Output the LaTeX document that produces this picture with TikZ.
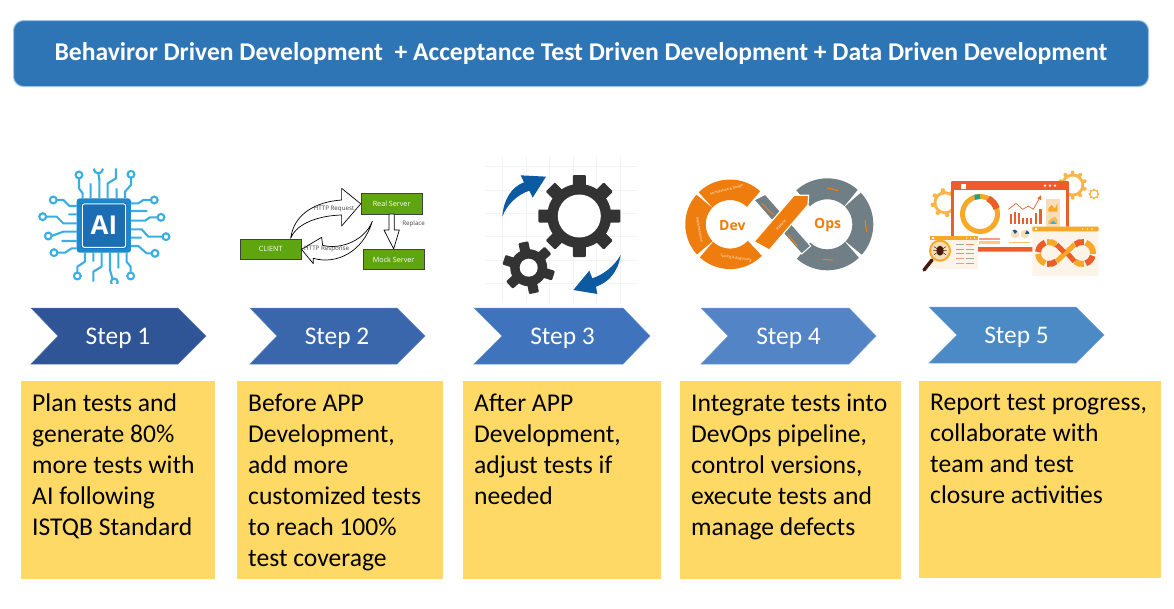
\documentclass[tikz,border=0pt]{standalone}
\usepackage{fontspec}
\setmainfont{Carlito}
\newfontfamily\opensans{Open Sans}
\usetikzlibrary{calc}
\definecolor{titleblue}{HTML}{2E75B6}
\definecolor{titleedge}{HTML}{9DC3E6}
\definecolor{boxyellow}{HTML}{FFD966}
\definecolor{chipline}{HTML}{3AAEE0}
\definecolor{chipouter}{HTML}{1E88CC}
\definecolor{chipinner}{HTML}{1B6DB4}
\definecolor{srvgreen}{HTML}{5FA50F}
\definecolor{geardark}{HTML}{333333}
\definecolor{arrowblue}{HTML}{0B5AA2}
\definecolor{gridgray}{HTML}{F3F3F3}
\definecolor{dorange}{HTML}{EE7D0E}
\definecolor{dgray}{HTML}{707F85}
\definecolor{dashred}{HTML}{EB5E2B}
\definecolor{dashyel}{HTML}{F8A827}
\definecolor{dashcream}{HTML}{FCF4E8}
\definecolor{dashpeach}{HTML}{F8DDBB}
\definecolor{dashteal}{HTML}{1FA08C}
\definecolor{stepa}{HTML}{2F5597}
\definecolor{stepb}{HTML}{3A66AC}
\definecolor{stepc}{HTML}{3F73BC}
\definecolor{stepd}{HTML}{5284C6}
\definecolor{stepe}{HTML}{4C8AC6}
\tikzset{
  chevron/.style={draw=#1!80!white,line width=.5pt,fill=#1},
  steptext/.style={text=white,font=\fontsize{25.4}{30}\selectfont,inner sep=0pt},
  yellowbox/.style={fill=boxyellow,inner sep=0pt,anchor=north west},
  boxtext/.style={anchor=north west,align=left,inner sep=0pt,text=black,font=\fontsize{25.6}{31}\selectfont},
  trace/.style={draw=chipline,line width=2.1pt,line join=round,fill=none},
  pad/.style={draw=chipline,line width=2.1pt,fill=white},
  server/.style={fill=srvgreen,draw=black!75,line width=.7pt,text=white,inner sep=0pt,font=\opensans\fontsize{7.2}{8}\selectfont},
  blockarrow/.style={draw=black,fill=white,line width=.7pt,line join=round},
  srvlabel/.style={text=black!75,inner sep=0pt,font=\opensans\fontsize{6.2}{7}\selectfont},
  tiny/.style={inner sep=0pt,text=white,font=\opensans\fontsize{3.4}{4}\selectfont},
  smudge/.style={draw=dorange,line width=1.1pt},
  dlabel/.style={inner sep=0pt,text=dorange,font=\opensans\bfseries\fontsize{14}{16}\selectfont},
}
% chevron: left, notch, shoulder, tip, top, name, colour, label
\newcommand{\stepshape}[8]{%
  \path[chevron=#7] (#1,#5) -- (#3,#5) -- (#4,#5+28) -- (#3,#5+56) -- (#1,#5+56) -- (#2,#5+28) -- cycle;
  \node[steptext] (#6) at ({(#2+#3)/2},#5+30) {#8};}
% gear: cx cy teeth body outer toothw hole colour offset
\newcommand{\cog}[9]{%
  \begin{scope}[shift={(#1,#2)},x=1pt,y=1pt]
    \foreach \i in {1,...,#3}{\fill[#8,rotate=\i*360/#3+#9,rounded corners=1pt] (-#6/2,0) rectangle (#6/2,#5);}
    \fill[#8] (0,0) circle[radius=#4];
    \fill[white] (0,0) circle[radius=#7];
  \end{scope}}
% ring segment: cx cy from to radius width colour
\newcommand{\ringseg}[7]{%
  \begin{scope}[shift={(#1,#2)},x=1pt,y=1pt]
    \draw[#7,line width=#6] (#3:#5) arc[start angle=#3,end angle=#4,radius=#5];
  \end{scope}}
\begin{document}
\begin{tikzpicture}[x=1pt,y=-1pt]
\useasboundingbox (0,0) rectangle (1174,608);
\fill[white] (0,0) rectangle (1174,608);

% Title
\node[draw=titleedge,fill=titleblue,line width=1pt,rounded corners=10pt,minimum width=1135pt,minimum height=66pt,inner sep=0pt,anchor=north west,
  text=white,font=\bfseries\fontsize{25.6}{30}\selectfont] (title) at (13,20) {\raisebox{-1pt}{Behaviror Driven Development\ \ + Acceptance Test Driven Development + Data Driven Development}};

% Steps
\stepshape{31}{58}{178}{206}{308}{s1}{stepa}{Step 1}
\stepshape{250}{277}{397}{425}{308}{s2}{stepb}{Step 2}
\stepshape{474}{502}{623}{650}{308}{s3}{stepc}{Step 3}
\stepshape{701}{728}{849}{876}{308}{s4}{stepd}{Step 4}
\stepshape{929}{957}{1076}{1104}{307}{s5}{stepe}{Step 5}

% Boxes
\node[yellowbox,minimum width=194pt,minimum height=198pt] (b1) at (21,381) {};
\node[yellowbox,minimum width=206pt,minimum height=198pt] (b2) at (237,381) {};
\node[yellowbox,minimum width=198pt,minimum height=198pt] (b3) at (463,381) {};
\node[yellowbox,minimum width=221pt,minimum height=198pt] (b4) at (680,381) {};
\node[yellowbox,minimum width=242pt,minimum height=197pt] (b5) at (919,381) {};
\node[boxtext] (t1) at (32,394) {Plan tests and\\generate 80\%\\more tests with\\AI following\\ISTQB Standard};
\node[boxtext] (t2) at (248,394) {Before APP\\Development,\\add more\\customized tests\\to reach 100\%\\test coverage};
\node[boxtext] (t3) at (474,394) {After APP\\Development,\\adjust tests if\\needed};
\node[boxtext] (t4) at (691,394) {Integrate tests into\\DevOps pipeline,\\control versions,\\execute tests and\\manage defects};
\node[boxtext] (t5) at (930,394) {Report test progress,\\collaborate with\\team and test\\closure activities};

% --- AI chip icon ---
\begin{scope}[shift={(30,160)},x=.3333pt,y=-.3333pt]
  \draw[trace]
    (147,55)--(147,85)--(158,100)--(158,115)
    (182,70)--(182,115)
    (205,38)--(208,60)--(208,115)
    (258,25)--(258,55)--(233,70)--(233,115)
    (260,85)--(260,115)
    (303,53)--(303,75)--(285,95)--(285,115)
    (363,120)--(340,120)--(325,130)--(303,130)
    (303,153)--(352,153)
    (383,172)--(360,172)--(345,182)--(303,182)
    (398,230)--(355,230)--(335,208)--(303,208)
    (303,233)--(335,233)
    (365,280)--(350,280)--(325,258)--(303,258)
    (80,120)--(100,120)--(118,138)--(140,138)
    (115,163)--(140,163)
    (48,170)--(80,170)--(100,190)--(140,190)
    (65,228)--(100,215)--(140,215)
    (95,243)--(140,243)
    (82,278)--(105,278)--(125,265)--(140,265)
    (142,338)--(142,320)--(165,305)--(165,278)
    (190,278)--(190,305)
    (190,365)--(190,335)--(215,320)--(215,278)
    (248,358)--(240,330)--(240,278)
    (265,278)--(265,325)
    (302,338)--(302,320)--(290,305)--(290,278);
  \draw[trace] (191,26) .. controls (193,45) and (217,45) .. (219,26);
  \foreach \c in {(147,45),(303,43),(373,120),(393,172),(408,230),(375,280),(70,120),(38,170),(55,228),(72,278),(142,348),(302,348)}
    {\path[pad] \c circle[radius=3.4pt];}
  \begin{scope}
    \clip (230,340) rectangle (280,371);
    \path[pad] (253,366) circle[radius=3.4pt];
  \end{scope}
  \fill[chipouter,rounded corners=3pt] (140,115) rectangle (303,278);
  \fill[chipinner,rounded corners=2pt] (153,128) rectangle (291,266);
  \draw[white,line width=1pt,rounded corners=2pt] (157,132) rectangle (287,262);
  \node[inner sep=0pt,text=white,font=\opensans\bfseries\fontsize{26}{30}\selectfont] (ailabel) at (222,197) {AI};
\end{scope}

% --- client / server icon ---
\begin{scope}[shift={(20,150)},x=.3333pt,y=-.3333pt]
  \node[server,minimum width=61pt,minimum height=20.5pt] (real) at (1115,161.5) {Real Server};
  \node[server,minimum width=61pt,minimum height=20.5pt] (client) at (752,298) {CLIENT};
  \node[server,minimum width=61pt,minimum height=20.5pt] (mock) at (1121,328.5) {Mock Server};
  \path[blockarrow] (812,265) .. controls (822,190) and (890,155) .. (965,150) -- (965,115) -- (real.west) -- (965,228) -- (965,195) .. controls (895,197) and (830,220) .. (812,265) -- cycle;
  \path[blockarrow] (1057,214) .. controls (1035,270) and (965,300) .. (908,286) -- (905,262) -- (client.east) -- (880,341) -- (880,325) .. controls (950,345) and (1030,305) .. (1057,214) -- cycle;
  \path[blockarrow] (1107,192) -- (1107,240) -- (1092,240) -- (mock.north) -- (1138,240) -- (1123,240) -- (1123,192) -- cycle;
  \node[srvlabel] (lreq) at (942,177) {HTTP Request};
  \node[srvlabel] (lresp) at (920,298) {HTTP Response};
  \node[srvlabel] (lrep) at (1181,221) {Replace};
\end{scope}

% --- gears icon ---
\begin{scope}[shift={(470,150)},x=.3333pt,y=-.3333pt]
  \foreach \g in {97,168,238,310,380,452}{\draw[gridgray,line width=.5pt] (\g,20) -- (\g,460);}
  \foreach \g in {50,120,190,260,330,400}{\draw[gridgray,line width=.5pt] (45,\g) -- (500,\g);}
  \fill[arrowblue] (97,200) .. controls (100,150) and (125,110) .. (162,97) -- (152,76) -- (228,80) -- (188,143) -- (178,122) .. controls (140,135) and (110,165) .. (97,200) -- cycle;
  \fill[arrowblue] (452,315) .. controls (445,365) and (415,398) .. (378,410) -- (382,432) -- (310,420) -- (358,362) -- (367,385) .. controls (405,372) and (435,345) .. (452,315) -- cycle;
\end{scope}
\cog{579.3}{216}{8}{32pt}{41pt}{13pt}{21.5pt}{geardark}{0}
\cog{528.7}{267.7}{6}{18.5pt}{26pt}{10pt}{9pt}{geardark}{12}

% --- DevOps icon ---
\ringseg{730}{224.3}{135}{47}{34.5pt}{20.5pt}{dorange}
\ringseg{730}{224.3}{223}{138}{34.5pt}{20.5pt}{dorange}
\ringseg{730}{224.3}{316}{227}{34.5pt}{20.5pt}{dorange}
\ringseg{827.3}{224.3}{133}{48}{35.5pt}{21pt}{dgray}
\ringseg{827.3}{224.3}{44}{-42}{35.5pt}{21pt}{dgray}
\ringseg{827.3}{224.3}{-46}{-132}{35.5pt}{21pt}{dgray}
\begin{scope}[shift={(680,170)},x=.3333pt,y=-.3333pt]
  \draw[white,line width=1pt,fill=dgray] (222,90) -- (256,73) -- (392,228) -- (365,252) -- cycle;
  \draw[white,line width=1.2pt,fill=dorange] (342,76) -- (386,76) -- (384,105) -- (268,240) -- (222,215) -- cycle;
  \node[dlabel] (dev) at (157,166) {Dev};
  \node[dlabel] (ops) at (443,166) {Ops};
  \node[tiny,rotate=15] (d1) at (140,60) {Architecture \& Design};
  \node[tiny,rotate=-80] (d2) at (58,180) {Implementation};
  \node[tiny,rotate=-8] (d3) at (168,265) {Testing \& Bug Fixing};
  \node[tiny,rotate=48] (d4) at (303,165) {Release};
  \draw[smudge] (442,54) -- (475,62);
  \draw[smudge] (555,150) -- (560,185);
  \draw[smudge] (428,268) -- (458,270);
  \draw[smudge] (245,100) -- (280,135);
  \draw[smudge] (325,195) -- (352,228);
\end{scope}

% --- dashboard icon ---
\cog{945}{202.7}{8}{11.5pt}{14.5pt}{4pt}{8.5pt}{dashyel!85!white}{10}
\cog{1072.7}{185}{10}{11.5pt}{14.5pt}{3.5pt}{8.5pt}{dashyel!85!white}{0}
\cog{1094}{194}{8}{4.8pt}{5.8pt}{1.6pt}{3.3pt}{dashyel!85!white}{0}
\begin{scope}[shift={(900,150)},x=.3333pt,y=-.3333pt]
  \fill[dashred,rounded corners=1pt] (153,93) rectangle (507,305);
  \fill[white] (162,121) rectangle (498,292);
  \fill[white] (183,101) rectangle (198,116);
  \foreach \d in {435,450,465}{\fill[white] (\d,107) circle[radius=1.3pt];}
  \fill[dashred!60!white] (237,265) rectangle (300,270);
  \fill[dashyel!60!white] (237,273) rectangle (300,281);
  \fill[dashyel!70!white] (328,275) rectangle (390,280);
  \fill[dashpeach] (437,147) rectangle (480,230);
  \fill[dashyel] (445,175) -- (455,165) -- (465,175) -- (472,160) -- (472,185) -- (445,185) -- cycle;
  \fill[dashyel!80!white] (445,215) -- (455,205) -- (465,200) -- (472,210) -- (472,222) -- (445,222) -- cycle;
  \fill[chipline] (450,222) -- (460,212) -- (470,222) -- cycle;
  \foreach \x/\h in {330/192,342/186,354/190,366/203,378/205,390/203,405/190,418/178}
    {\fill[dashred] (\x,\h) rectangle ++(7,222-\h);}
  \draw[dashred,line width=.7pt,line join=round] (325,178) -- (348,160) -- (368,178) -- (385,168) -- (400,178) -- (420,142);
  \fill[dashred] (423,136) -- (412,145) -- (423,150) -- cycle;
  \fill[dashpeach] (345,252) circle[radius=4.3pt];
  \fill[dashpeach] (375,252) circle[radius=4.3pt];
  \fill[arrowblue] (345,252) -- (338,241) -- (345,239) -- (352,244) -- cycle;
  \fill[arrowblue] (375,252) -- (380,241) -- (386,246) -- (388,252) -- cycle;
\end{scope}
\ringseg{980}{214}{0}{360}{17.5pt}{5pt}{dashyel}
\ringseg{980}{214}{62}{18}{17.5pt}{6.5pt}{dashred}
\ringseg{980}{214}{108}{90}{17.5pt}{5pt}{dashteal}
\begin{scope}[shift={(900,150)},x=.3333pt,y=-.3333pt]
  % bug window
  \fill[dashcream] (90,258) rectangle (235,357);
  \fill[dashyel] (90,258) rectangle (235,269);
  \foreach \d in {200,212,224}{\fill[white] (\d,264) circle[radius=.8pt];}
  \fill[white] (97,261) rectangle (103,267);
  \foreach \y in {283,297,311}{\draw[black!35,line width=.6pt] (168,\y) -- (192,\y);\draw[dashred!70!white,line width=.6pt] (197,\y) -- (222,\y);}
  \foreach \y in {325,340}{\draw[dashred!60!white,line width=.6pt] (168,\y) -- (192,\y);\draw[black!35,line width=.6pt] (197,\y) -- (222,\y);}
  \draw[black!70!dashred,line width=3.5pt,line cap=round] (96,330) -- (72,360);
  \fill[dashpeach] (120,302) circle[radius=10pt];
  \draw[dashyel,line width=2pt] (120,302) circle[radius=10pt];
  \fill[black!70!dashred] (120,302) ellipse[x radius=3.6pt,y radius=5pt];
  \draw[black!70!dashred,line width=.5pt] (102,290) -- (138,314) (102,314) -- (138,290) (100,302) -- (140,302);
  % infinity window
  \fill[dashcream,rounded corners=1pt] (397,230) rectangle (596,378);
  \fill[dashyel,rounded corners=1pt] (397,230) rectangle (596,244);
  \foreach \d in {548,562,576}{\fill[white] (\d,237) circle[radius=.8pt];}
  \fill[white] (405,234) rectangle (412,241);
\end{scope}
\ringseg{1049}{253}{175}{110}{11pt}{6pt}{dashred}
\ringseg{1049}{253}{100}{50}{11pt}{6pt}{dashyel}
\ringseg{1049}{253}{185}{250}{11pt}{6pt}{dashyel}
\ringseg{1049}{253}{260}{310}{11pt}{6pt}{dashred}
\ringseg{1082}{253}{130}{80}{11pt}{6pt}{dashred}
\ringseg{1082}{253}{70}{-5}{11pt}{6pt}{dashyel}
\ringseg{1082}{253}{-15}{-70}{11pt}{6pt}{dashred}
\ringseg{1082}{253}{-80}{-130}{11pt}{6pt}{dashyel}
\draw[dashyel,line width=5pt] (1056.5,261.5) -- (1074.5,244.5);
\draw[dashred,line width=5pt] (1056.5,244.5) -- (1064,252);
\draw[dashred,line width=5pt] (1068,254) -- (1074.5,261.5);
\end{tikzpicture}
\end{document}
